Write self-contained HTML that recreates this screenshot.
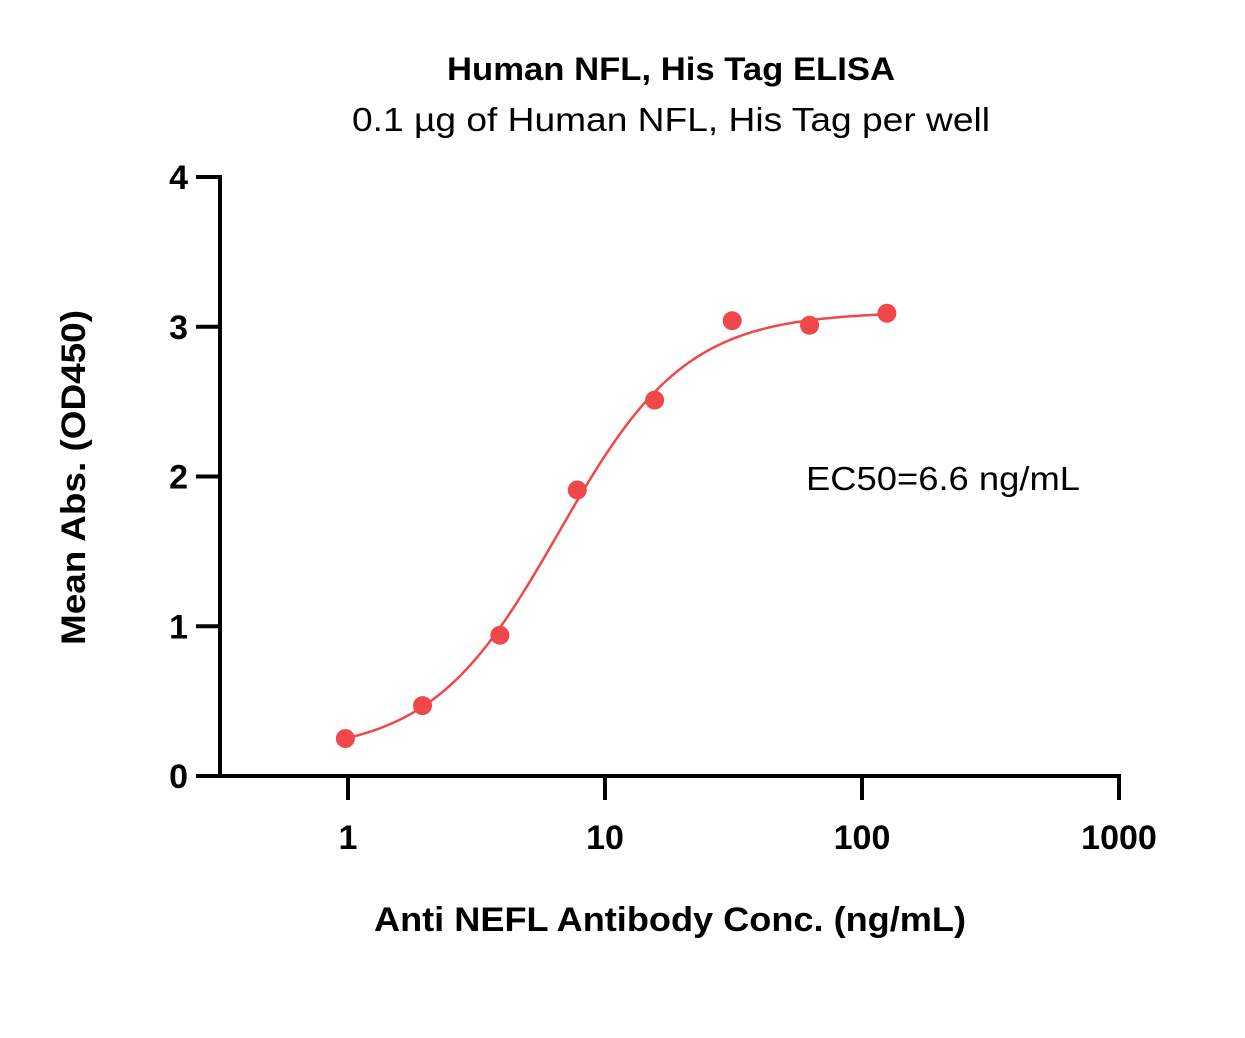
<!DOCTYPE html>
<html><head><meta charset="utf-8"><style>
body{margin:0;background:#fff}
svg{display:block;font-family:"Liberation Sans",sans-serif}
</style></head><body>
<svg id="chart" width="1245" height="1038" viewBox="0 0 1245 1038">
<text x="447" y="80" textLength="448" lengthAdjust="spacingAndGlyphs" font-size="32" font-weight="bold">Human NFL, His Tag ELISA</text>
<text x="352" y="131" textLength="638" lengthAdjust="spacingAndGlyphs" font-size="33">0.1 µg of Human NFL, His Tag per well</text>
<text x="806" y="490" textLength="274" lengthAdjust="spacingAndGlyphs" font-size="33">EC50=6.6 ng/mL</text>
<text x="374" y="931" textLength="592" lengthAdjust="spacingAndGlyphs" font-size="34" font-weight="bold">Anti NEFL Antibody Conc. (ng/mL)</text>
<text transform="translate(85,645) rotate(-90)" textLength="335" lengthAdjust="spacingAndGlyphs" font-size="34" font-weight="bold">Mean Abs. (OD450)</text>
<g id="axes"></g>
<g id="marks"></g>
</svg>
<script>
const conc = [0.977, 1.95, 3.9, 7.8, 15.6, 31.25, 62.5, 125];
const od = [0.25, 0.47, 0.94, 1.91, 2.51, 3.04, 3.01, 3.09];
const yTicks = [0, 1, 2, 3, 4];
const xTicks = [1, 10, 100, 1000];
const xTickLabels = ["1", "10", "100", "1000"];
const fitParams = [0.15, 3.1, 6.6, 1.75]; // bottom, top, EC50, hill

const X0 = 348, XD = 257, Y0 = 776, YU = 149.75;
const xs = v => X0 + Math.log10(v) * XD;
const ys = v => Y0 - v * YU;
const NS = "http://www.w3.org/2000/svg";
const axes = document.getElementById('axes'), marks = document.getElementById('marks');
function mk(tag, attrs, parent) { const e = document.createElementNS(NS, tag); for (const k in attrs) e.setAttribute(k, attrs[k]); parent.appendChild(e); return e; }

let e = mk('line', {x1:220, y1:ys(4)-2, x2:220, y2:Y0+2, stroke:'#000', 'stroke-width':4}, axes);


e = mk('line', {x1:218, y1:Y0, x2:xs(1000)+2, y2:Y0, stroke:'#000', 'stroke-width':4}, axes);


yTicks.forEach(t => {
  const y = ys(t);
  let l = mk('line', {x1:196, y1:y, x2:220, y2:y, stroke:'#000', 'stroke-width':4}, axes);
  
  
  let tx = mk('text', {x:188, y:y+12, 'text-anchor':'end', 'font-size':34, 'font-weight':'bold'}, axes);
  tx.textContent = t;
  
  
});
xTicks.forEach((t, i) => {
  const x = xs(t);
  let l = mk('line', {x1:x, y1:Y0, x2:x, y2:Y0+24, stroke:'#000', 'stroke-width':4}, axes);
  
  
  let tx = mk('text', {x:x, y:849, 'text-anchor':'middle', 'font-size':34, 'font-weight':'bold'}, axes);
  tx.textContent = xTickLabels[i];
  
  
});
const [b, tp, ec, h] = fitParams;
let d = '';
const lo = Math.log10(conc[0]), hi = Math.log10(conc[conc.length-1]);
for (let i = 0; i <= 200; i++) {
  const lx = lo + (hi - lo) * i / 200, c = Math.pow(10, lx);
  const v = b + (tp - b) / (1 + Math.pow(ec / c, h));
  d += (i ? 'L' : 'M') + xs(c).toFixed(2) + ',' + ys(v).toFixed(2);
}
e = mk('path', {d:d, fill:'none', stroke:'#f0474a', 'stroke-width':2.5}, marks);


conc.forEach((c, i) => {
  const p = mk('circle', {cx:xs(c), cy:ys(od[i]), r:9.5, fill:'#f0474a'}, marks);
  
  
});
</script>
</body></html>
